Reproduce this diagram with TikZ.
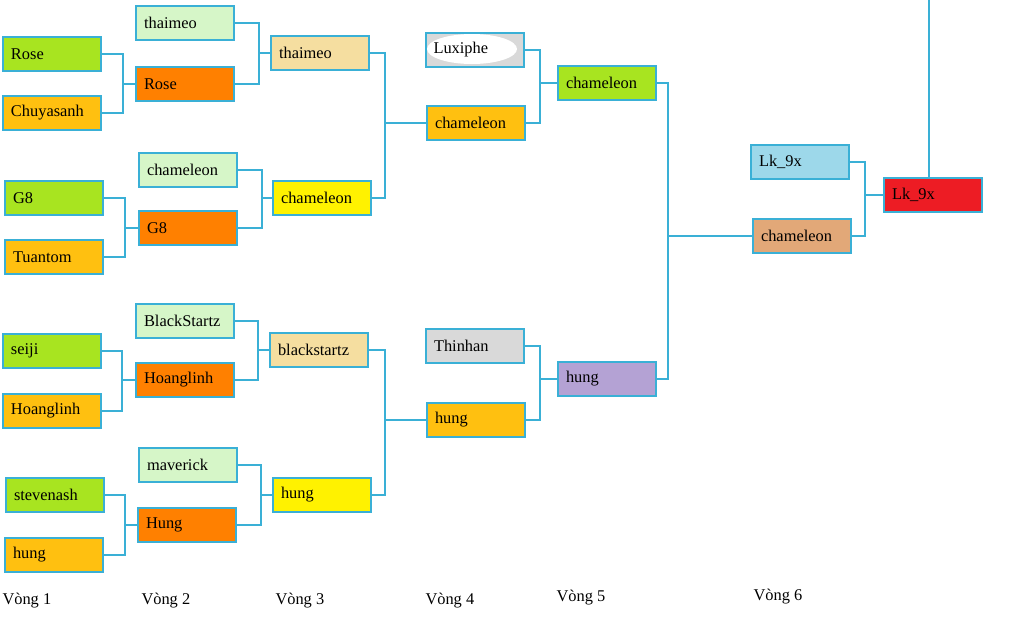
\documentclass[tikz,border=0pt]{standalone}
\usepackage{fontspec}
\setmainfont{Liberation Serif}

\definecolor{linecol}{RGB}{58,176,214}
\definecolor{lime}{RGB}{168,228,32}
\definecolor{gold}{RGB}{255,192,16}
\definecolor{mint}{RGB}{214,246,200}
\definecolor{tangerine}{RGB}{255,128,0}
\definecolor{wheat}{RGB}{245,222,160}
\definecolor{lemon}{RGB}{255,242,0}
\definecolor{silver}{RGB}{217,217,217}
\definecolor{lilac}{RGB}{180,162,212}
\definecolor{sky}{RGB}{157,216,234}
\definecolor{peach}{RGB}{226,168,120}
\definecolor{scarlet}{RGB}{237,28,36}

\tikzset{every picture/.style={line width=0.75pt}}
\tikzset{
  team/.style={draw=linecol, line width=1.5pt, anchor=north west,
    minimum height=25.5pt, text width=61.5pt, inner xsep=6pt, align=left,
    font=\fontsize{12.3}{14}\selectfont},
  link/.style={draw=linecol, line width=1.2pt},
  round/.style={anchor=west, inner sep=0pt, font=\fontsize{12.3}{14}\selectfont}
}

\begin{document}
\begin{tikzpicture}[x=0.75pt,y=0.75pt,yscale=-1,xscale=1]
\path[use as bounding box] (0,0) rectangle (1023,626);

% Vong 1
\node (rose1) [team, fill=lime] at (2,36) {Rose};
\node (chuy1) [team, fill=gold] at (2,95) {Chuyasanh};
\node (g81) [team, fill=lime] at (4,180) {G8};
\node (tuan1) [team, fill=gold] at (4,239) {Tuantom};
\node (seiji1) [team, fill=lime] at (2,333) {seiji};
\node (hoang1) [team, fill=gold] at (2,393) {Hoanglinh};
\node (steve1) [team, fill=lime] at (5,477) {stevenash};
\node (hung1) [team, fill=gold] at (4,537) {hung};

% Vong 2
\node (thai2) [team, fill=mint] at (135,5) {thaimeo};
\node (rose2) [team, fill=tangerine] at (135,66) {Rose};
\node (cham2) [team, fill=mint] at (138,152) {chameleon};
\node (g82) [team, fill=tangerine] at (138,210) {G8};
\node (black2) [team, fill=mint] at (135,303) {BlackStartz};
\node (hoang2) [team, fill=tangerine] at (135,362) {Hoanglinh};
\node (mav2) [team, fill=mint] at (138,447) {maverick};
\node (hung2) [team, fill=tangerine] at (137,507) {Hung};

% Vong 3
\node (thai3) [team, fill=wheat] at (270,35) {thaimeo};
\node (cham3) [team, fill=lemon] at (272,180) {chameleon};
\node (black3) [team, fill=wheat] at (269,332) {blackstartz};
\node (hung3) [team, fill=lemon] at (272,477) {hung};

% Vong 4
\node (luxi4) [team, fill=silver] at (425,32) {};
\fill [white] (472,49) ellipse (45 and 15);
\node [anchor=west, inner sep=0pt, font=\fontsize{12.3}{14}\selectfont] at (433,50) {Luxiphe};
\node (cham4) [team, fill=gold] at (426,105) {chameleon};
\node (thin4) [team, fill=silver] at (425,328) {Thinhan};
\node (hung4) [team, fill=gold] at (426,402) {hung};

% Vong 5
\node (cham5) [team, fill=lime] at (557,65) {chameleon};
\node (hung5) [team, fill=lilac] at (557,361) {hung};

% Vong 6
\node (lk6) [team, fill=sky] at (750,144) {Lk\_9x};
\node (cham6) [team, fill=peach] at (752,218) {chameleon};

% final
\node (final) [team, fill=scarlet] at (883,177) {Lk\_9x};
\coordinate (top) at (928,0);

% Vong 1 -> Vong 2
\draw [link] (rose1.east) -| ([xshift=-9pt]rose2.west) |- (chuy1.east);
\draw [link] ([xshift=-9pt]rose2.west) -- (rose2.west);
\draw [link] (g81.east) -| ([xshift=-9.75pt]g82.west) |- (tuan1.east);
\draw [link] ([xshift=-9.75pt]g82.west) -- (g82.west);
\draw [link] (seiji1.east) -| ([xshift=-9.75pt]hoang2.west) |- (hoang1.east);
\draw [link] ([xshift=-9.75pt]hoang2.west) -- (hoang2.west);
\draw [link] (steve1.east) -| ([xshift=-9pt]hung2.west) |- (hung1.east);
\draw [link] ([xshift=-9pt]hung2.west) -- (hung2.west);

% Vong 2 -> Vong 3
\draw [link] (thai2.east) -| ([xshift=-8.25pt]thai3.west) |- (rose2.east);
\draw [link] ([xshift=-8.25pt]thai3.west) -- (thai3.west);
\draw [link] (cham2.east) -| ([xshift=-7.5pt]cham3.west) |- (g82.east);
\draw [link] ([xshift=-7.5pt]cham3.west) -- (cham3.west);
\draw [link] (black2.east) -| ([xshift=-8.25pt]black3.west) |- (hoang2.east);
\draw [link] ([xshift=-8.25pt]black3.west) -- (black3.west);
\draw [link] (mav2.east) -| ([xshift=-8.25pt]hung3.west) |- (hung2.east);
\draw [link] ([xshift=-8.25pt]hung3.west) -- (hung3.west);

% Vong 3 -> Vong 4
\draw [link] (thai3.east) -| ([xshift=-30.75pt]cham4.west) |- (cham3.east);
\draw [link] ([xshift=-30.75pt]cham4.west) -- (cham4.west);
\draw [link] (black3.east) -| ([xshift=-30.75pt]hung4.west) |- (hung3.east);
\draw [link] ([xshift=-30.75pt]hung4.west) -- (hung4.west);

% Vong 4 -> Vong 5
\draw [link] (luxi4.east) -| ([xshift=-12.75pt]cham5.west) |- (cham4.east);
\draw [link] ([xshift=-12.75pt]cham5.west) -- (cham5.west);
\draw [link] (thin4.east) -| ([xshift=-12.75pt]hung5.west) |- (hung4.east);
\draw [link] ([xshift=-12.75pt]hung5.west) -- (hung5.west);

% Vong 5 -> Vong 6
\draw [link] (cham5.east) -| ([xshift=-63pt]cham6.west) |- (hung5.east);
\draw [link] ([xshift=-63pt]cham6.west) -- (cham6.west);

% Vong 6 -> final
\draw [link] (lk6.east) -| ([xshift=-13.5pt]final.west) |- (cham6.east);
\draw [link] ([xshift=-13.5pt]final.west) -- (final.west);
\draw [link] ([xshift=-3pt]final.north) -- ([xshift=-3pt]final.north |- top);

% round labels
\node (v1) [round] at (2,601) {Vòng 1};
\node (v2) [round] at (141,601) {Vòng 2};
\node (v3) [round] at (275,601) {Vòng 3};
\node (v4) [round] at (425,601) {Vòng 4};
\node (v5) [round] at (556,598) {Vòng 5};
\node (v6) [round] at (753,597) {Vòng 6};

\end{tikzpicture}
\end{document}
